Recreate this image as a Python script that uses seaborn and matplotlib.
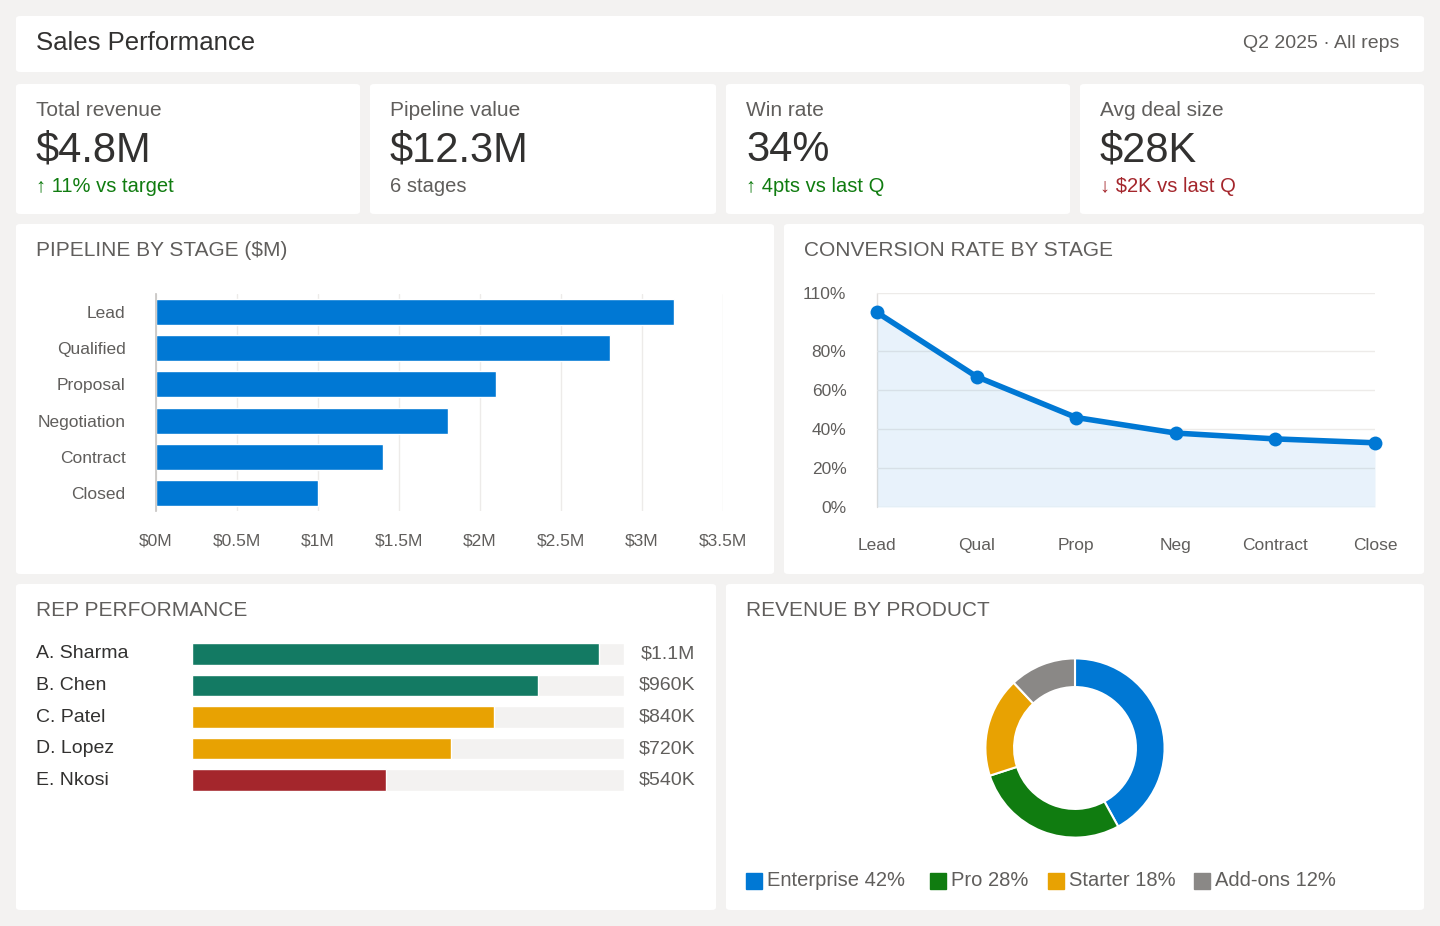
import matplotlib
matplotlib.use("Agg")
import matplotlib.pyplot as plt
import seaborn as sns
import pandas as pd
from matplotlib.patches import FancyBboxPatch
from matplotlib.ticker import FuncFormatter

stages = ["Lead", "Qualified", "Proposal", "Negotiation", "Contract", "Closed"]
pipeline_m = [3.2, 2.8, 2.1, 1.8, 1.4, 1.0]
conv_labels = ["Lead", "Qual", "Prop", "Neg", "Contract", "Close"]
conv_rate = [100, 67, 46, 38, 35, 33]
reps = ["A. Sharma", "B. Chen", "C. Patel", "D. Lopez", "E. Nkosi"]
rep_rev_k = [1130, 960, 840, 720, 540]
rep_labels = ["$1.1M", "$960K", "$840K", "$720K", "$540K"]
rep_colors = ["#137a63", "#137a63", "#e8a202", "#e8a202", "#a4262c"]
products = ["Enterprise", "Pro", "Starter", "Add-ons"]
prod_share = [42, 28, 18, 12]
prod_colors = ["#0078d4", "#107c10", "#e8a202", "#8a8886"]
kpi_titles = ["Total revenue", "Pipeline value", "Win rate", "Avg deal size"]
kpi_values = ["$4.8M", "$12.3M", "34%", "$28K"]
kpi_notes = ["↑ 11% vs target", "6 stages", "↑ 4pts vs last Q", "↓ $2K vs last Q"]
kpi_note_colors = ["#107c10", "#605e5c", "#107c10", "#a4262c"]

sns.set_theme(style="white")
plt.rcParams["font.family"] = ["Liberation Sans", "DejaVu Sans"]

W, H = 1440, 926
fig = plt.figure(figsize=(W / 100, H / 100), dpi=100, facecolor="#f3f2f1")
DARK, GRAY = "#323130", "#605e5c"

def fx(x): return x / W
def fy(y): return 1 - y / H

def panel(x0, y0, x1, y1):
    fig.patches.append(FancyBboxPatch((fx(x0), fy(y1)), fx(x1 - x0), (y1 - y0) / H,
                                      boxstyle="round,pad=0,rounding_size=0.003",
                                      transform=fig.transFigure, facecolor="white",
                                      edgecolor="none", zorder=-10))

def ax_px(x0, y0, x1, y1):
    a = fig.add_axes([fx(x0), fy(y1), fx(x1 - x0), (y1 - y0) / H])
    a.patch.set_alpha(0)
    return a

def txt(x, y, s, size, color=DARK, ha="left", **kw):
    fig.text(fx(x), fy(y), s, fontsize=size, color=color, ha=ha, va="center", **kw)

# header
panel(16, 16, 1424, 72)
txt(36, 43, "Sales Performance", 18.5)
txt(1399, 43, "Q2 2025 · All reps", 14, GRAY, ha="right")

# KPI cards
cards = [(16, 360), (370, 716), (726, 1070), (1080, 1424)]
for (a, b), t, v, n, c in zip(cards, kpi_titles, kpi_values, kpi_notes, kpi_note_colors):
    panel(a, 84, b, 214)
    txt(a + 20, 111, t, 15, GRAY)
    txt(a + 20, 150, v, 30)
    txt(a + 20, 186, n, 14.5, c)

# pipeline
panel(16, 224, 774, 574)
txt(36, 251, "PIPELINE BY STAGE ($M)", 15, GRAY)
ax = ax_px(156, 294, 723, 511)
df = pd.DataFrame({"stage": stages, "val": pipeline_m})
sns.barplot(data=df, x="val", y="stage", ax=ax, color="#0078d4", width=0.72, saturation=1)
ax.set_xlim(0, 3.5)
ax.set_xticks([0, 0.5, 1, 1.5, 2, 2.5, 3, 3.5])
ax.xaxis.set_major_formatter(FuncFormatter(lambda v, p: f"${v:g}M"))
ax.grid(axis="x", color="#edebe9", lw=1)
ax.set_axisbelow(True)
for s in ["top", "right", "bottom"]:
    ax.spines[s].set_visible(False)
ax.spines["left"].set_color("#c8c6c4")
ax.set_xlabel(""); ax.set_ylabel("")
ax.tick_params(axis="both", length=0, labelsize=12.5, labelcolor=GRAY)
ax.tick_params(axis="x", pad=16)
ax.tick_params(axis="y", pad=22)

# conversion
panel(784, 224, 1424, 574)
txt(804, 251, "CONVERSION RATE BY STAGE", 15, GRAY)
ax2 = ax_px(877, 293, 1375, 507)
cdf = pd.DataFrame({"x": range(len(conv_labels)), "y": conv_rate})
ax2.fill_between(cdf["x"], cdf["y"], color="#0078d4", alpha=0.09, lw=0)
sns.lineplot(data=cdf, x="x", y="y", ax=ax2, color="#0078d4", lw=4,
             marker="o", markersize=10, markeredgewidth=0)
ax2.set_xlim(0, 5); ax2.set_ylim(0, 110)
ax2.set_yticks([0, 20, 40, 60, 80, 110])
ax2.yaxis.set_major_formatter(FuncFormatter(lambda v, p: f"{v:g}%"))
ax2.set_xticks(range(len(conv_labels)))
ax2.set_xticklabels(conv_labels)
ax2.grid(axis="y", color="#edebe9", lw=1)
ax2.set_axisbelow(True)
for s in ["top", "right", "bottom", "left"]:
    ax2.spines[s].set_visible(False)
ax2.axvline(0, color="#e1dfdd", lw=1, zorder=0)
ax2.set_xlabel(""); ax2.set_ylabel("")
ax2.tick_params(axis="both", length=0, labelsize=12.5, labelcolor=GRAY)
ax2.tick_params(axis="x", pad=22)
ax2.tick_params(axis="y", pad=22)
for l in ax2.lines: l.set_clip_on(False)

# rep performance
panel(16, 584, 716, 910)
txt(36, 611, "REP PERFORMANCE", 15, GRAY)
ax3 = ax_px(192, 638, 624, 796)
rdf = pd.DataFrame({"rep": reps, "val": rep_rev_k})
ax3.barh(range(len(reps)), [1200] * len(reps), height=0.68, color="#f3f2f1")
sns.barplot(data=rdf, x="val", y="rep", ax=ax3, palette=rep_colors, hue="rep",
            legend=False, width=0.68, saturation=1)
ax3.set_xlim(0, 1200)
ax3.set_ylim(len(reps) - 0.5, -0.5)
ax3.axis("off")
for i, (r, lab) in enumerate(zip(reps, rep_labels)):
    ax3.text(-156 / 432 * 1200, i, r, fontsize=14, color=DARK, va="center", ha="left")
    ax3.text(1200 + 71 / 432 * 1200, i, lab, fontsize=14, color=GRAY, va="center", ha="right")

# revenue by product
panel(726, 584, 1424, 910)
txt(746, 611, "REVENUE BY PRODUCT", 15, GRAY)
ax4 = ax_px(963, 636, 1187, 860)
ax4.pie(prod_share, colors=prod_colors, startangle=90, counterclock=False,
        wedgeprops=dict(width=0.32, edgecolor="white", linewidth=1.5))
ax4.set_aspect("equal")
lx = [746, 930, 1048, 1194]
for x, p, s, c in zip(lx, products, prod_share, prod_colors):
    fig.patches.append(plt.Rectangle((fx(x), fy(889)), fx(16), 16 / H, color=c,
                                     transform=fig.transFigure))
    txt(x + 21, 881, f"{p} {s}%", 14.5, GRAY)

fig.savefig("out.png", dpi=100, facecolor=fig.get_facecolor())
